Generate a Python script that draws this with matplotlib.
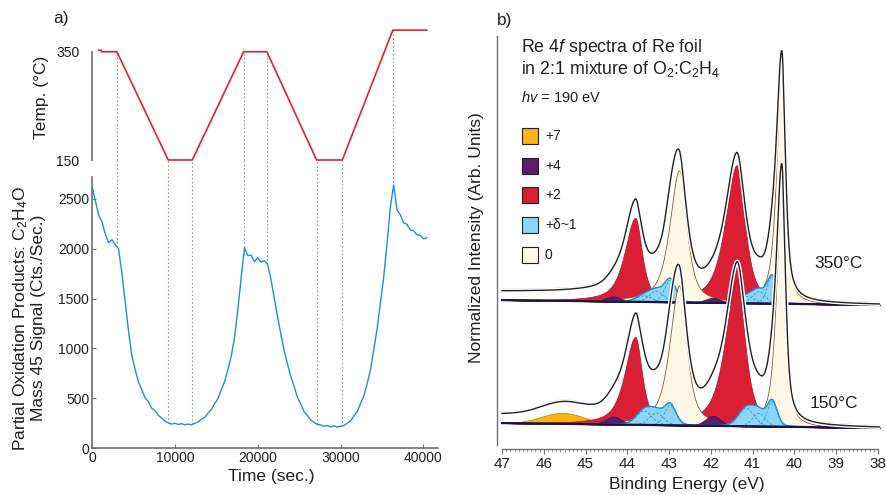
import numpy as np
import matplotlib
matplotlib.use("Agg")
import matplotlib.pyplot as plt
import matplotlib.patheffects as pe
from matplotlib.patches import Rectangle

plt.rcParams['font.family'] = ['Liberation Sans', 'DejaVu Sans']
plt.rcParams['mathtext.fontset'] = 'custom'
plt.rcParams['mathtext.rm'] = 'Liberation Sans'
plt.rcParams['mathtext.it'] = 'Liberation Sans:italic'

# ---- panel a) data ----
time = np.arange(0, 40401, 400)
signal = [2630, 2480, 2340, 2270, 2150, 2060, 2090, 2040, 2000, 1760,
          1470, 1180, 930, 790, 665, 585, 505, 465, 400, 375,
          330, 300, 268, 252, 240, 248, 236, 245, 232, 240,
          232, 248, 262, 290, 305, 350, 385, 445, 495, 585,
          665, 790, 920, 1110, 1390, 1710, 2010, 1930, 1935, 1870,
          1910, 1865, 1880, 1840, 1690, 1500, 1310, 1140, 975, 840,
          715, 615, 505, 440, 365, 325, 280, 258, 235, 232,
          218, 225, 212, 222, 210, 220, 226, 248, 272, 322,
          365, 445, 525, 645, 785, 985, 1195, 1455, 1715, 2050,
          2420, 2640, 2390, 2340, 2260, 2245, 2190, 2180, 2140, 2135,
          2100, 2110]

temp_time = [800, 1100, 1150, 3000, 9200, 12100, 18300, 21100, 27100, 30200, 36300, 40400]
temp_val = [353, 353, 350, 350, 150, 150, 350, 350, 150, 150, 390, 390]
switch_times = [3000, 9200, 12100, 18300, 21100, 27100, 30200, 36300]

# ---- panel b) peak parameters (centre eV, height, hwhm high-BE side, hwhm low-BE side) ----
met_pos = [40.30, 42.76]
met_wl = [0.15, 0.27]
met_wr = [0.10, 0.21]
met_h350 = [242, 132]
met_h150 = [252, 140]

re2_pos = [41.38, 43.81]
re2_wl = [0.33, 0.30]
re2_wr = [0.23, 0.19]
re2_h350 = [138, 84]
re2_h150 = [146, 88]

re4_pos = [41.95, 44.33]
re4_w = [0.22, 0.22]
re4_h350 = [5, 5]
re4_h150 = [10, 8]

re7_pos = [45.55]
re7_w = [0.6]
re7_h350 = [0]
re7_h150 = [11]

dl_pos = [40.53, 40.85, 41.15, 42.97, 43.30, 43.60]
dl_w = [0.14, 0.18, 0.22, 0.16, 0.20, 0.22]
dl_h350 = [27, 12, 7, 22, 11, 6]
dl_h150 = [25, 13, 18, 20, 12, 14]

lor_mix = 0.7
bg_step = [8, 8]
base_off = [144, 21]

legend_labels = ['+7', '+4', '+2', '+\u03b4~1', '0']
legend_colors = ['#f9b416', '#5b1c6e', '#da1e34', '#8dd5f5', '#fef9e6']

W, H = 887, 495
fig = plt.figure(figsize=(W / 100, H / 100), dpi=100)

def fx(px):
    return px / W

def fy(py):
    return 1 - py / H

txt = '#231f20'
spine_c = '#6d6e71'

# temperature axes
ax_t = fig.add_axes([fx(92), fy(160), fx(438) - fx(92), fy(22) - fy(160)])
ax_t.plot(temp_time, temp_val, color='#e8202a', lw=1.2, clip_on=False)
for t in switch_times:
    ax_t.plot([t, t], [150, np.interp(t, temp_time, temp_val)], color='#9a9a9a',
              lw=0.8, ls=(0, (1.5, 2)), zorder=0)
ax_t.set_xlim(0, 41750)
ax_t.set_ylim(150, 405)
for s in ['top', 'right', 'bottom']:
    ax_t.spines[s].set_visible(False)
ax_t.spines['left'].set_bounds(150, 350)
ax_t.spines['left'].set_color('#8a8a8a')
ax_t.spines['left'].set_linewidth(1.5)
ax_t.set_xticks([])
ax_t.set_yticks([150, 350])
ax_t.tick_params(axis='y', length=0, pad=9, labelsize=10, labelcolor=txt)

# signal axes
ax_s = fig.add_axes([fx(92), fy(448), fx(438) - fx(92), fy(177) - fy(448)])
ax_s.plot(time, signal, color='#1a90d8', lw=1.0)
for t in switch_times:
    ax_s.plot([t, t], [np.interp(t, time, signal), 2891], color='#9a9a9a',
              lw=0.8, ls=(0, (1.5, 2)), zorder=0, clip_on=False)
ax_s.set_xlim(0, 41750)
ax_s.set_ylim(0, 2720)
ax_s.spines['top'].set_visible(False)
ax_s.spines['right'].set_visible(False)
for s in ['left', 'bottom']:
    ax_s.spines[s].set_color(spine_c)
    ax_s.spines[s].set_linewidth(1.2)
ax_s.set_xticks([0, 10000, 20000, 30000, 40000])
ax_s.set_yticks([0, 500, 1000, 1500, 2000, 2500])
ax_s.tick_params(direction='in', length=3, width=0.8, color=spine_c,
                 labelsize=10, labelcolor=txt, pad=2)

fig.text(fx(42), fy(97), 'Temp. (\u00b0C)', rotation=90, ha='center', va='center',
         fontsize=12.5, color=txt)
fig.text(fx(29), fy(318), 'Partial Oxidation Products: C$_2$H$_4$O\nMass 45 Signal (Cts./Sec.)',
         rotation=90, ha='center', va='center', fontsize=12.5, color=txt,
         multialignment='center', linespacing=1.1)
fig.text(fx(271), fy(477), 'Time (sec.)', ha='center', va='center', fontsize=12.5, color=txt)
fig.text(fx(61), fy(19), 'a)', ha='center', va='center', fontsize=12.5, color=txt)
fig.text(fx(505), fy(20), 'b)', ha='center', va='center', fontsize=12.5, color=txt)

# spectra axes
ax_b = fig.add_axes([fx(497), fy(449), fx(880) - fx(497), fy(36) - fy(449)])
ax_b.set_xlim(47.12, 37.95)
ax_b.set_ylim(0, 413)

E = np.linspace(37.95, 47.0, 1500)


def peak(c, h, wl, wr, m):
    d = E - c
    w = np.where(d > 0, wl, wr)
    x = (d / w) ** 2
    return h * ((1 - m) * np.exp(-np.log(2) * x) + m / (1 + x))


def spectrum(k, h0, h2, h4, h7, hd, z):
    base = base_off[k] + 0.55 * (E - 38)
    c7 = sum(peak(p, h, w, w, 0.0) for p, h, w in zip(re7_pos, h7, re7_w))
    c2 = [peak(p, h, a, b, lor_mix) for p, h, a, b in zip(re2_pos, h2, re2_wl, re2_wr)]
    c0 = [peak(p, h, a, b, lor_mix) for p, h, a, b in zip(met_pos, h0, met_wl, met_wr)]
    c4 = [peak(p, h, w, w, 0.2) for p, h, w in zip(re4_pos, h4, re4_w)]
    cd = [peak(p, h, w, w, 0.2) for p, h, w in zip(dl_pos, hd, dl_w)]
    total = c7 + sum(c2) + sum(c0) + sum(c4) + sum(cd)
    cum = np.cumsum(total)
    bg = bg_step[k] * cum / cum[-1]

    if np.max(c7) > 0:
        ax_b.fill_between(E, base, base + c7, color='#f9b416', ec='#c98a00', lw=0.6, zorder=z)
    for c in c2:
        ax_b.fill_between(E, base, base + c, color='#da1e34', ec='#a3152a', lw=0.5, zorder=z + 0.1)
    for c in c0:
        ax_b.fill_between(E, base, base + c, color='#fef9e6', ec='#8b5a2b', lw=0.6, zorder=z + 0.2)
    for c in c4:
        ax_b.fill_between(E, base, base + c, color='#5b1c6e', ec='#3a0f4a', lw=0.5, zorder=z + 0.3)
    for grp in (cd[:3], cd[3:]):
        s = sum(grp)
        ax_b.fill_between(E, base, base + s, color='#8dd5f5', ec='none', zorder=z + 0.4)
        for c in grp:
            ax_b.plot(E, base + c, color='#2a9ad8', lw=0.6, ls=(0, (3, 2)), zorder=z + 0.45)
        ax_b.plot(E, base + s, color='#1a8fd6', lw=1.0, zorder=z + 0.5)
    ax_b.plot(E, base, color='#1f1147', lw=1.6, zorder=z + 0.6)
    env = base + total + bg
    ax_b.plot(E, env + 1.5, color='#b0b0b0', lw=0.7, zorder=z + 0.65)
    ax_b.plot(E, env, color='#231f20', lw=1.0, zorder=z + 0.7,
              path_effects=[pe.withStroke(linewidth=3, foreground='white')])


spectrum(0, met_h350, re2_h350, re4_h350, re7_h350, dl_h350, 2)
spectrum(1, met_h150, re2_h150, re4_h150, re7_h150, dl_h150, 4)

for s in ['top', 'right']:
    ax_b.spines[s].set_visible(False)
ax_b.spines['left'].set_bounds(4, 413)
ax_b.spines['bottom'].set_bounds(47, 38)
for s in ['left', 'bottom']:
    ax_b.spines[s].set_color(spine_c)
    ax_b.spines[s].set_linewidth(1.0)
ax_b.set_yticks([])
ax_b.set_xticks(np.arange(38, 48, 1))
ax_b.set_xticks(np.arange(38, 47.01, 0.1), minor=True)
ax_b.tick_params(axis='x', which='major', direction='out', length=3.5, width=0.8,
                 color=spine_c, labelsize=11, labelcolor=txt, pad=2)
ax_b.tick_params(axis='x', which='minor', direction='out', length=1.8, width=0.5, color=spine_c)

fig.text(fx(687), fy(485), 'Binding Energy (eV)', ha='center', va='center', fontsize=12.5, color=txt)
fig.text(fx(477), fy(238), 'Normalized Intensity (Arb. Units)', rotation=90, ha='center',
         va='center', fontsize=12.5, color=txt)
fig.text(fx(521), fy(48), 'Re 4$f$ spectra of Re foil', ha='left', va='center', fontsize=12.8, color=txt)
fig.text(fx(521), fy(69), 'in 2:1 mixture of O$_2$:C$_2$H$_4$', ha='left', va='center', fontsize=12.8, color=txt)
fig.text(fx(521), fy(98), '$hv$ = 190 eV', ha='left', va='center', fontsize=10.5, color=txt)
fig.text(fx(839), fy(263), '350\u00b0C', ha='center', va='center', fontsize=12.5, color=txt)
fig.text(fx(834), fy(403), '150\u00b0C', ha='center', va='center', fontsize=12.5, color=txt)

for i, (lab, col) in enumerate(zip(legend_labels, legend_colors)):
    yc = 136 + i * 29.7
    fig.patches.append(Rectangle((fx(522), fy(yc + 8)), fx(16), 16 / H, transform=fig.transFigure,
                                 facecolor=col, edgecolor='#231f20', lw=0.8, figure=fig))
    fig.text(fx(545), fy(yc), lab, ha='left', va='center', fontsize=10, color=txt)

fig.savefig('out.png', dpi=100)
